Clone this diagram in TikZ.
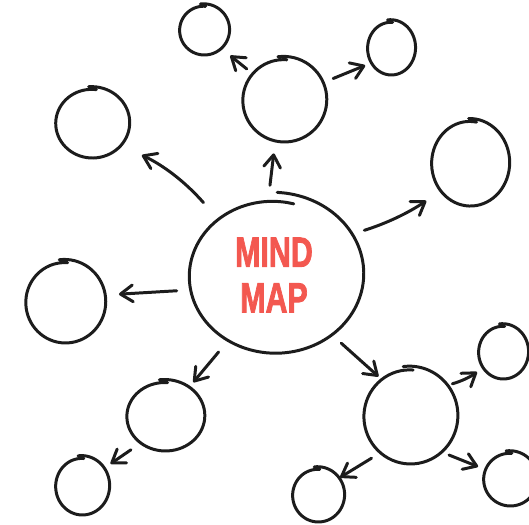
\documentclass[tikz,border=0pt]{standalone}
\usepackage{fontspec}
\setmainfont{Liberation Sans}
\newfontfamily\mapfont[FakeBold=2.2]{Liberation Sans}
\usepackage{graphicx}
\usepackage{tikz}
\usetikzlibrary{arrows.meta,shapes.geometric,positioning}
\definecolor{ink}{RGB}{28,28,28}
\definecolor{mapred}{RGB}{243,88,80}

\begin{document}
\begin{tikzpicture}[x=0.02cm, y=-0.02cm,
    >={Straight Barb[length=7pt,width=9.5pt,round]},
    blob/.style={ellipse, inner sep=0pt, outer sep=0pt},
    sketch/.style={ink, line width=1.7pt, line cap=round, line join=round},
    link/.style={sketch, ->}]
  \useasboundingbox (0,0) rectangle (529,525);
  \node[blob, minimum width=3.48cm, minimum height=3.12cm, text=mapred, align=center,
    font=\mapfont\bfseries\fontsize{24}{26}\selectfont] (mind) at (274,275)
    {\scalebox{0.72}[1]{MIND}\\\scalebox{0.72}[1]{MAP}};
  \node[blob, minimum width=1.68cm, minimum height=1.70cm] (top) at (284,100) {};
  \node[blob, minimum width=1.00cm, minimum height=1.00cm] (topleft) at (204,30) {};
  \node[blob, minimum width=0.96cm, minimum height=1.08cm] (topright) at (391,48) {};
  \node[blob, minimum width=1.48cm, minimum height=1.40cm] (northwest) at (92,123) {};
  \node[blob, minimum width=1.60cm, minimum height=1.64cm] (west) at (65,302) {};
  \node[blob, minimum width=1.56cm, minimum height=1.72cm] (east) at (470,163) {};
  \node[blob, minimum width=1.88cm, minimum height=1.92cm] (southeast) at (410,416) {};
  \node[blob, minimum width=1.00cm, minimum height=1.08cm] (seup) at (503,352) {};
  \node[blob, minimum width=1.08cm, minimum height=1.08cm] (seright) at (510,479) {};
  \node[blob, minimum width=1.04cm, minimum height=1.08cm] (seleft) at (318,495) {};
  \node[blob, minimum width=1.56cm, minimum height=1.40cm] (southwest) at (165,416) {};
  \node[blob, minimum width=1.08cm, minimum height=1.16cm] (swleaf) at (82,486) {};

  \foreach \n/\a/\b/\s/\g in {mind/87/78/272/0.12, top/42/42/262/0.08, topleft/25/25/262/0.1,
      topright/24/27/262/0.1, northwest/37/35/265/0.08, west/40/41/262/0.08,
      east/39/43/268/0.07, southeast/47/48/262/0.08, seup/25/27/262/0.1,
      seright/27/27/262/0.1, seleft/26/27/262/0.1, southwest/39/35/262/0.09,
      swleaf/27/29/262/0.1}
    \draw[sketch, shift={(\n)}] plot[domain=0:372, samples=70, smooth, variable=\t]
      ({\a*(1+\g/2-\g*\t/372)*cos(\t+\s)}, {\b*(1+\g/2-\g*\t/372)*sin(\t+\s)});

  \draw[link, shorten <=6.8pt, shorten >=6.8pt] (mind.94) -- (top.258);
  \draw[link, shorten <=3.6pt, shorten >=6.7pt] (top.140) -- (topleft.313);
  \draw[link, shorten <=6.6pt, shorten >=3.6pt] (top.24) -- (topright.217);
  \draw[link, shorten <=10.8pt, shorten >=13.4pt] (mind.135) to[bend right=12] (northwest.322);
  \draw[link, shorten <=6.8pt, shorten >=8.3pt] (mind.190) -- (west.10);
  \draw[link, shorten <=9.3pt, shorten >=9.8pt] (mind.28) to[bend right=8] (east.224);
  \draw[link, shorten <=7.9pt, shorten >=1.7pt] (mind.314) -- (southeast.128);
  \draw[link, shorten <=3.6pt, shorten >=4pt] (southeast.40) to[bend right=10] (seup.218);
  \draw[link, shorten <=4.8pt, shorten >=4.1pt] (southeast.311) -- (seright.159);
  \draw[link, shorten <=5.7pt, shorten >=1.1pt] (southeast.231) -- (seleft.39);
  \draw[link, shorten <=8.1pt, shorten >=4.3pt] (mind.235) -- (southwest.50);
  \draw[link, shorten <=6.6pt, shorten >=4.8pt] (southwest.228) -- (swleaf.39);
\end{tikzpicture}
\end{document}
